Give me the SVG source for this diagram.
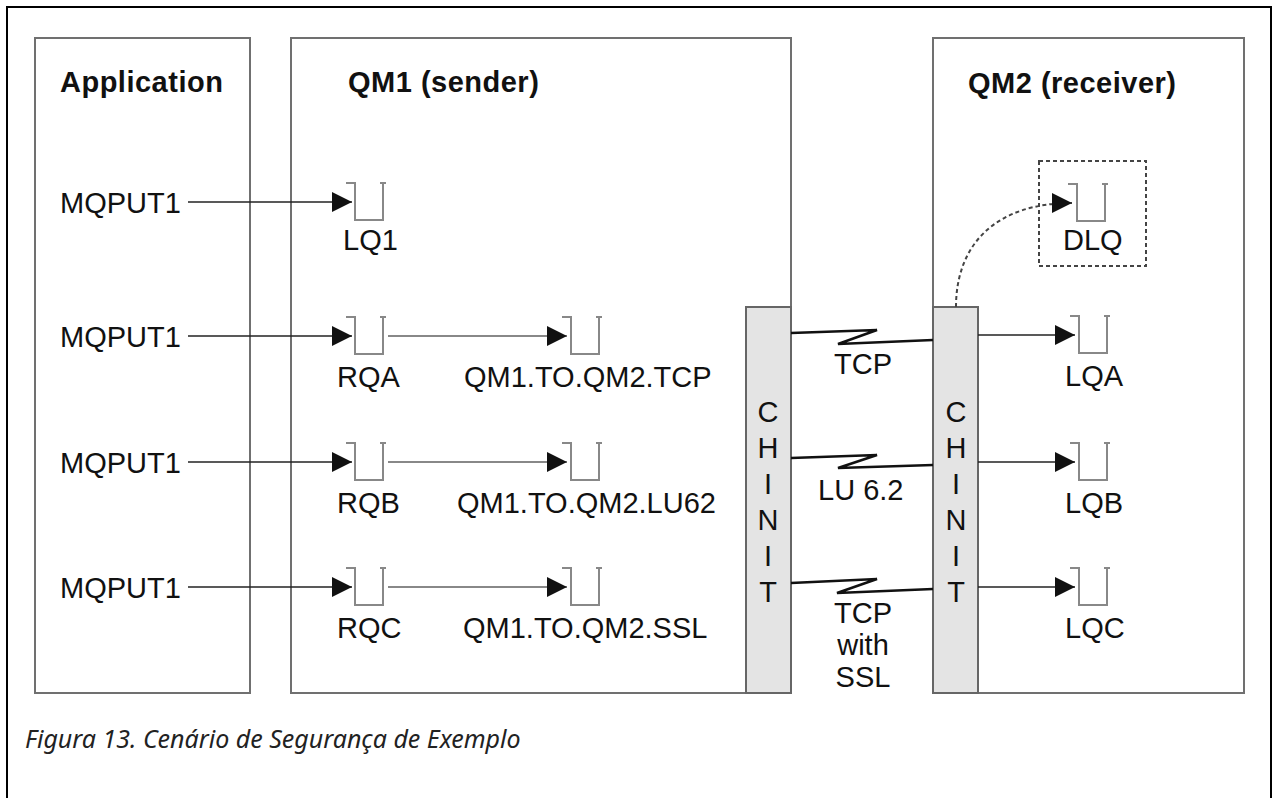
<svg xmlns="http://www.w3.org/2000/svg" width="1273" height="798" viewBox="0 0 1273 798">
<style>
.frame{fill:none;stroke:#000;stroke-width:2}
.panel{fill:#fff;stroke:#707070;stroke-width:2}
.chinit{fill:#e4e4e4;stroke:#666;stroke-width:2}
.title{font-family:"Liberation Sans",Arial,sans-serif;font-weight:bold;font-size:29px;letter-spacing:0.5px;fill:#111}
.lbl{font-family:"Liberation Sans",Arial,sans-serif;font-size:29px;fill:#111}
.ch{font-family:"Liberation Sans",Arial,sans-serif;font-size:29px;fill:#111;text-anchor:middle}
.cap{font-family:"Noto Sans","Open Sans",sans-serif;font-style:italic;font-size:25px;fill:#222}
.q{fill:none;stroke:#888;stroke-width:2}
.a1{fill:none;stroke:#222;stroke-width:1.6;marker-end:url(#ah)}
.a2{fill:none;stroke:#888;stroke-width:2;marker-end:url(#ah)}
.bolt{fill:none;stroke:#111;stroke-width:2.5;stroke-linejoin:miter}
.dot{fill:none;stroke:#444;stroke-width:2;stroke-dasharray:4 3}
</style>
<defs>
<marker id="ah" markerUnits="userSpaceOnUse" markerWidth="20" markerHeight="20" refX="20" refY="10" orient="auto" overflow="visible">
<path d="M0,0 L20,10 L0,20 Z" fill="#111"/>
</marker>
<path id="queue" class="q" d="M-6,-19 H3 V18 H31 V-19 M28,-19 H34"/>
</defs>
<rect class="frame" x="7" y="7" width="1264" height="830"/>

<g id="app">
<rect class="panel" x="35" y="38" width="215" height="655"/>
<text class="title" x="60" y="92">Application</text>
<text class="lbl" x="60" y="213">MQPUT1</text>
<text class="lbl" x="60" y="347">MQPUT1</text>
<text class="lbl" x="60" y="473">MQPUT1</text>
<text class="lbl" x="60" y="598">MQPUT1</text>
</g>

<g id="qm1">
<rect class="panel" x="291" y="38" width="500" height="655"/>
<text class="title" x="348" y="92">QM1 (sender)</text>
</g>

<g id="qm2">
<rect class="panel" x="933" y="38" width="311" height="655"/>
<text class="title" x="968" y="93">QM2 (receiver)</text>
</g>

<g id="chinit1">
<rect class="chinit" x="746" y="307" width="45" height="386"/>
<text class="ch" x="768" y="422">C</text>
<text class="ch" x="768" y="458">H</text>
<text class="ch" x="768" y="494">I</text>
<text class="ch" x="768" y="530">N</text>
<text class="ch" x="768" y="566">I</text>
<text class="ch" x="768" y="602">T</text>
</g>

<g id="chinit2">
<rect class="chinit" x="933" y="307" width="45" height="386"/>
<text class="ch" x="956" y="422">C</text>
<text class="ch" x="956" y="458">H</text>
<text class="ch" x="956" y="494">I</text>
<text class="ch" x="956" y="530">N</text>
<text class="ch" x="956" y="566">I</text>
<text class="ch" x="956" y="602">T</text>
</g>

<g id="lq1"><use href="#queue" x="352" y="202"/><text class="lbl" x="343" y="250">LQ1</text></g>
<g id="rqa"><use href="#queue" x="352" y="336"/><text class="lbl" x="337" y="387">RQA</text></g>
<g id="rqb"><use href="#queue" x="352" y="462"/><text class="lbl" x="337" y="513">RQB</text></g>
<g id="rqc"><use href="#queue" x="352" y="587"/><text class="lbl" x="337" y="638">RQC</text></g>
<g id="xq-tcp"><use href="#queue" x="568" y="336"/><text class="lbl" x="464" y="387">QM1.TO.QM2.TCP</text></g>
<g id="xq-lu62"><use href="#queue" x="568" y="462"/><text class="lbl" x="457" y="513">QM1.TO.QM2.LU62</text></g>
<g id="xq-ssl"><use href="#queue" x="568" y="587"/><text class="lbl" x="463" y="638">QM1.TO.QM2.SSL</text></g>
<g id="dlq">
<rect class="dot" x="1039" y="161" width="107" height="105"/>
<use href="#queue" x="1074" y="203"/><text class="lbl" x="1063" y="250">DLQ</text>
</g>
<g id="lqa"><use href="#queue" x="1076" y="335"/><text class="lbl" x="1065" y="386">LQA</text></g>
<g id="lqb"><use href="#queue" x="1076" y="462"/><text class="lbl" x="1065" y="513">LQB</text></g>
<g id="lqc"><use href="#queue" x="1076" y="587"/><text class="lbl" x="1065" y="638">LQC</text></g>

<g id="connectors">
<line class="a1" x1="188" y1="202" x2="352" y2="202"/>
<line class="a1" x1="188" y1="336" x2="352" y2="336"/>
<line class="a1" x1="188" y1="462" x2="352" y2="462"/>
<line class="a1" x1="188" y1="587" x2="352" y2="587"/>
<line class="a2" x1="388" y1="336" x2="567" y2="336"/>
<line class="a2" x1="388" y1="462" x2="567" y2="462"/>
<line class="a2" x1="388" y1="587" x2="567" y2="587"/>
<line class="a1" x1="978" y1="335" x2="1075" y2="335"/>
<line class="a1" x1="978" y1="462" x2="1075" y2="462"/>
<line class="a1" x1="978" y1="587" x2="1075" y2="587"/>
<path class="dot" d="M956,307 C956,245 995,203 1072,203" marker-end="url(#ah)"/>
<polyline class="bolt" points="791,333 877,330 838,344 933,340"/>
<polyline class="bolt" points="791,458 877,455 838,468 933,465"/>
<polyline class="bolt" points="791,583 877,579 837,593 933,589"/>
<text class="lbl" x="834" y="374">TCP</text>
<text class="lbl" x="818" y="500">LU 6.2</text>
<text class="lbl" x="863" y="623" text-anchor="middle">TCP</text>
<text class="lbl" x="863" y="655" text-anchor="middle">with</text>
<text class="lbl" x="863" y="687" text-anchor="middle">SSL</text>
</g>

<text class="cap" x="25" y="748">Figura 13. Cenário de Segurança de Exemplo</text>
</svg>
